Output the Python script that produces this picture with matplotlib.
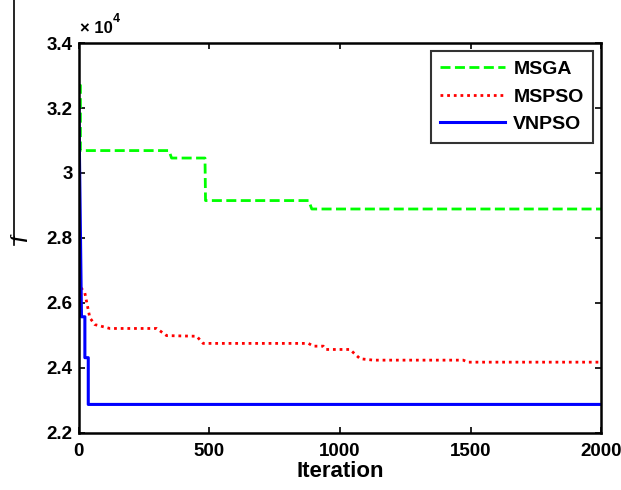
import matplotlib
matplotlib.use("Agg")
import matplotlib.pyplot as plt
from matplotlib.lines import Line2D
from matplotlib.ticker import FuncFormatter

plt.rcParams['font.family'] = ['Liberation Sans', 'DejaVu Sans']
plt.rcParams['font.weight'] = 'bold'

# MSGA (steps)
msga_it = [0, 6, 6, 345, 355, 483, 485, 880, 892, 2000]
msga_f = [32700, 32700, 30690, 30690, 30460, 30460, 29150, 29150, 28890, 28890]

# MSPSO
mspso_it = [0, 3, 5, 23, 42, 61, 119, 298, 336, 451, 476, 879, 898, 936, 946,
            1038, 1077, 1128, 1472, 1490, 2000]
mspso_f = [28100, 26900, 26500, 26300, 25540, 25330, 25210, 25210, 24990, 24970,
           24750, 24750, 24665, 24665, 24563, 24563, 24277, 24234, 24234, 24172, 24172]

# VNPSO
vnpso_it = [0, 10, 10, 23, 23, 36, 36, 2000]
vnpso_f = [32050, 25570, 25570, 25570, 24310, 24310, 22870, 22870]

fig = plt.figure(figsize=(6.21, 4.90), dpi=100)
ax = fig.add_axes([0.127, 0.117, 0.841, 0.795])

ax.plot(msga_it, msga_f, color=(0, 1, 0), lw=2.0, dashes=(3.6, 1.6), label='MSGA')
ax.plot(mspso_it, mspso_f, color=(1, 0, 0), lw=2.0, dashes=(1.0, 1.4), label='MSPSO')
ax.plot(vnpso_it, vnpso_f, color=(0, 0, 1), lw=2.2, label='VNPSO')

ax.set_xlim(0, 2000)
ax.set_ylim(22000, 34000)
ax.set_xticks([0, 500, 1000, 1500, 2000])
ax.set_yticks([22000, 24000, 26000, 28000, 30000, 32000, 34000])
ax.yaxis.set_major_formatter(FuncFormatter(lambda v, p: '%g' % (v / 1e4)))
ax.tick_params(direction='in', top=True, right=True, length=4, width=1.2,
               labelsize=13.5)
ax.tick_params(axis='x', pad=7.5)
ax.tick_params(axis='y', pad=4.5)
for lab in ax.get_xticklabels() + ax.get_yticklabels():
    lab.set_fontweight('bold')
for s in ax.spines.values():
    s.set_linewidth(1.8)

ax.set_xlabel('Iteration', fontsize=16, fontweight='bold', labelpad=1)

leg = ax.legend(loc='upper right', fontsize=14, frameon=True, fancybox=False,
                edgecolor='black', handlelength=3.3, borderaxespad=0.4,
                labelspacing=0.5, handletextpad=0.45, borderpad=0.5)
leg.get_frame().set_linewidth(1.5)
for t in leg.get_texts():
    t.set_fontweight('bold')

fig.text(80 / 621, 1 - 33 / 490, '\u00d7 10', fontsize=12, fontweight='bold',
         ha='left', va='baseline')
fig.text(113 / 621, 1 - 22 / 490, '4', fontsize=9, fontweight='bold',
         ha='left', va='baseline')

fig.text(20 / 621, 1 - 238 / 490, 'f', fontsize=13, style='italic',
         rotation=90, ha='center', va='center', family='Liberation Serif')
fig.add_artist(Line2D([14 / 621, 14 / 621], [1.0, 1 - 245 / 490],
                      transform=fig.transFigure, color='black', lw=1.2))

fig.savefig('out.png', dpi=100)
